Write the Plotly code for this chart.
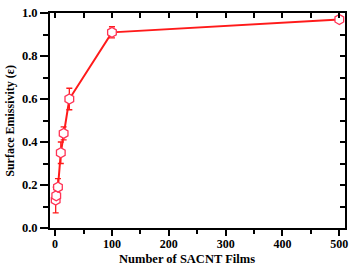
import plotly.graph_objects as go

films = [1, 2, 5, 10, 15, 25, 100, 500]
emissivity = [0.13, 0.15, 0.19, 0.35, 0.44, 0.60, 0.91, 0.97]
err = [0.06, 0.03, 0.04, 0.05, 0.03, 0.05, 0.026, 0.01]

x_ticks = [0, 100, 200, 300, 400, 500]
y_ticks = [0.0, 0.2, 0.4, 0.6, 0.8, 1.0]

x_title = "Number of SACNT Films"
y_title = "Surface Emissivity (ε)"

red = "#ff1a1a"
font_family = "Liberation Serif"

fig = go.Figure()
fig.add_trace(go.Scatter(
    x=films, y=emissivity, mode="lines+markers",
    line=dict(color=red, width=2),
    marker=dict(symbol="hexagon", size=10, color="white",
                line=dict(color="#ff3355", width=1.3)),
    error_y=dict(type="data", array=err, visible=True, color=red,
                 thickness=1.3, width=3),
    showlegend=False, cliponaxis=False, hoverinfo="skip",
))
# empty trace to hold mirrored inward-tick axes
fig.add_trace(go.Scatter(x=[], y=[], xaxis="x2", yaxis="y2", showlegend=False))

tick_font = dict(family=font_family, size=12.5, color="black", weight="bold")
x_tick_font = dict(family=font_family, size=12, color="black", weight="bold")
fig.update_layout(
    width=354, height=266,
    margin=dict(l=50, r=6, t=7, b=38),
    paper_bgcolor="white", plot_bgcolor="white",
    font=dict(family=font_family, color="black"),
    xaxis=dict(
        range=[-9, 510], tickvals=x_ticks, ticktext=[str(v) for v in x_ticks],
        ticks="outside", ticklen=6, tickwidth=2, tickcolor="black",
        minor=dict(dtick=50, ticks="outside", ticklen=4, tickwidth=2, tickcolor="black"),
        showline=True, linecolor="black", linewidth=2, mirror=True,
        showgrid=False, zeroline=False, tickfont=x_tick_font,
        ticklabelstandoff=-2,
    ),
    yaxis=dict(
        range=[0, 1], tickvals=y_ticks, ticktext=[f"{v:.1f}" for v in y_ticks],
        ticks="outside", ticklen=8, tickwidth=2, tickcolor="black",
        minor=dict(dtick=0.1, ticks="outside", ticklen=5, tickwidth=2, tickcolor="black"),
        showline=True, linecolor="black", linewidth=2, mirror=True,
        showgrid=False, zeroline=False, tickfont=tick_font,
    ),
    xaxis2=dict(
        overlaying="x", side="top", range=[-9, 510], dtick=50, tick0=0,
        ticks="inside", ticklen=5, tickwidth=2, tickcolor="black",
        showticklabels=False, showgrid=False, zeroline=False, showline=False,
    ),
    yaxis2=dict(
        overlaying="y", side="right", range=[0, 1], dtick=0.1, tick0=0,
        ticks="inside", ticklen=5, tickwidth=2, tickcolor="black",
        showticklabels=False, showgrid=False, zeroline=False, showline=False,
    ),
    annotations=[
        dict(text=f"<b>{x_title}</b>", xref="paper", yref="paper",
             x=0.463, y=-0.146, xanchor="center", yanchor="middle",
             showarrow=False, font=dict(family=font_family, size=12.5, color="black")),
        dict(text=f"<b>{y_title}</b>", xref="paper", yref="paper",
             x=-0.138, y=0.5, xanchor="center", yanchor="middle", textangle=-90,
             showarrow=False, font=dict(family=font_family, size=12, color="black")),
    ],
)

fig.write_html("out.html", config={"displayModeBar": False},
               post_script="document.body.style.margin='0';document.body.style.overflow='hidden';")
